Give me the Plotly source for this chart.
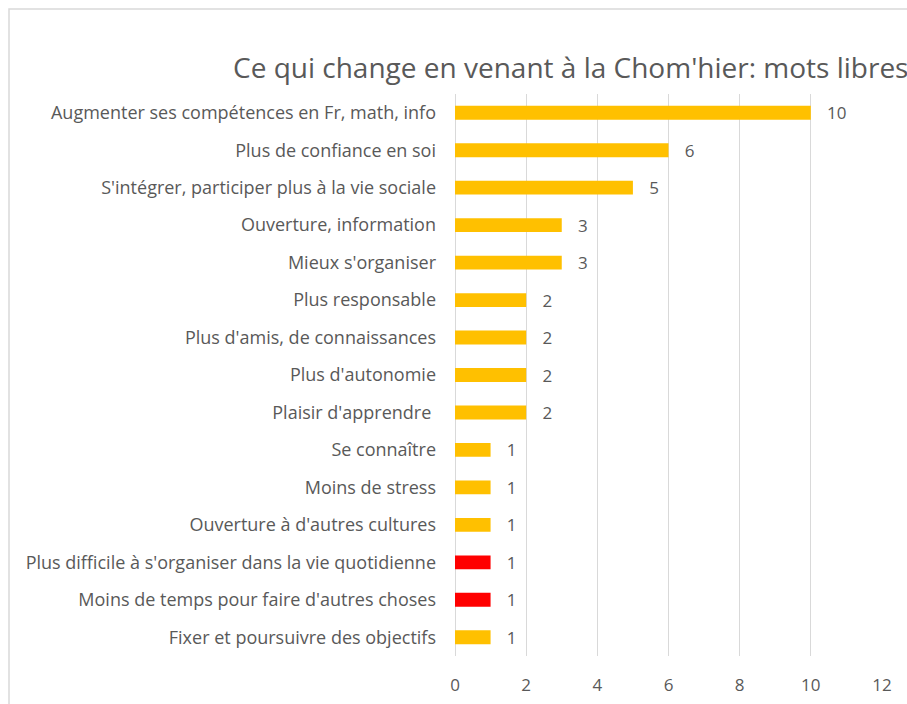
import plotly.graph_objects as go

categories = [
    "Augmenter ses compétences en Fr, math, info",
    "Plus de confiance en soi",
    "S'intégrer, participer plus à la vie sociale",
    "Ouverture, information",
    "Mieux s'organiser",
    "Plus responsable",
    "Plus d'amis, de connaissances",
    "Plus d'autonomie",
    "Plaisir d'apprendre\u00a0",
    "Se connaître",
    "Moins de stress",
    "Ouverture à d'autres cultures",
    "Plus difficile à s'organiser dans la vie quotidienne",
    "Moins de temps pour faire d'autres choses",
    "Fixer et poursuivre des objectifs",
]
values = [10, 6, 5, 3, 3, 2, 2, 2, 2, 1, 1, 1, 1, 1, 1]
negative = [False] * 12 + [True, True, False]
x_ticks = [0, 2, 4, 6, 8, 10, 12]

title_text = "Ce qui change en venant à la Chom'hier: mots libres"

GOLD = "#FFC000"
RED = "#FF0000"
colors = [RED if n else GOLD for n in negative]

FONT = "'Open Sans', sans-serif"
TXT = "#595959"

fig = go.Figure(
    go.Bar(
        x=values,
        y=categories,
        orientation="h",
        marker=dict(color=colors, line=dict(width=0)),
        width=0.37,
        text=["\u00a0\u00a0\u00a0" + str(v) for v in values],
        textposition="outside",
        constraintext="none",
        textfont=dict(family=FONT, size=17, color=TXT),
        cliponaxis=False,
    )
)

W, H = 907, 704
L, R, T, B = 455, 25, 94, 48

fig.update_layout(
    width=W,
    height=H,
    margin=dict(l=L, r=R, t=T, b=B, autoexpand=False),
    paper_bgcolor="white",
    plot_bgcolor="white",
    showlegend=False,
    font=dict(family=FONT, size=17, color=TXT),
    title=dict(
        text=title_text,
        xref="container",
        x=233 / W,
        xanchor="left",
        yref="container",
        y=1 - 68 / H,
        yanchor="middle",
        font=dict(family=FONT, size=28, color=TXT),
    ),
    xaxis=dict(
        range=[0, 12],
        tickvals=x_ticks,
        showgrid=True,
        gridcolor="#D9D9D9",
        gridwidth=1.3,
        zeroline=True,
        zerolinecolor="#D9D9D9",
        zerolinewidth=1.3,
        showline=False,
        ticks="",
        automargin=False,
        ticklabelstandoff=17,
        tickfont=dict(family=FONT, size=17, color=TXT),
    ),
    yaxis=dict(
        autorange="reversed",
        showgrid=False,
        showline=False,
        ticks="",
        automargin=False,
        ticklabelstandoff=18,
        tickfont=dict(family=FONT, size=18, color=TXT),
    ),
)

plot_w = W - L - R
plot_h = H - T - B
fig.add_shape(
    type="rect",
    xref="paper",
    yref="paper",
    x0=(9 - L) / plot_w,
    x1=(W + 20 - L) / plot_w,
    y0=(H - B - (H + 20)) / plot_h,
    y1=(H - B - 9) / plot_h,
    line=dict(color="#D9D9D9", width=1.5),
    fillcolor="rgba(0,0,0,0)",
    layer="below",
)

fig.write_html(
    "out.html",
    config={"displayModeBar": False},
    post_script="document.body.style.margin='0';document.body.style.overflow='hidden';",
)
